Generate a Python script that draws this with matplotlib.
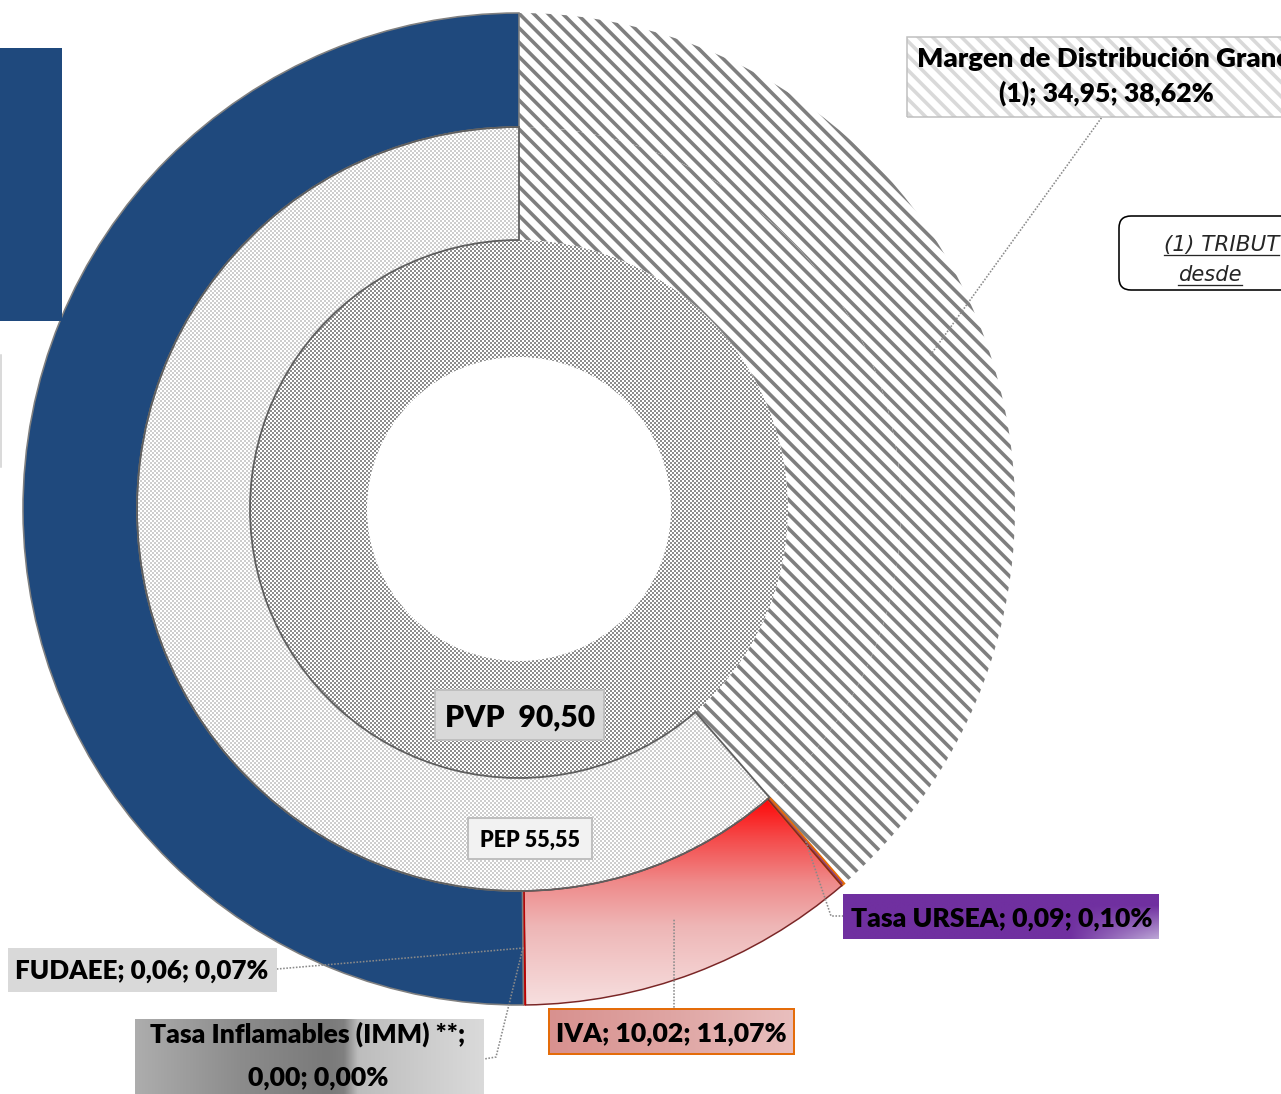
import numpy as np
import matplotlib
matplotlib.use('Agg')
import matplotlib.pyplot as plt
from matplotlib.patches import Rectangle, FancyBboxPatch
from matplotlib.colors import to_rgb

# price build-up values ($ per litre)
pvp_total = 90.50
pep_value = 55.55
outer_names = ['Margen de Distribución Granel (1)', 'Tasa URSEA', 'IVA',
               'FUDAEE', 'Tasa Inflamables (IMM) **']
outer_values = [34.95, 0.09, 10.02, 0.06, 0.00]

W, H = 1281, 1094
DPI = 130
HATCH = '\\\\\\'


def pt(px):
    # pixel size -> points at this dpi
    return px * 72 / DPI


def fmt(v):
    return f'{v:.2f}'.replace('.', ',')


plt.rcParams['font.family'] = ['Lato', 'DejaVu Sans']
plt.rcParams['hatch.linewidth'] = pt(3.6)

fig = plt.figure(figsize=(W / DPI, H / DPI), dpi=DPI, facecolor='white')
ax = fig.add_axes([0, 0, 1, 1])

# geometry in pixels (y measured upward)
cx, cy = 519, H - 509
r_out, r_mid, r_in, r_hole = 496, 382, 269, 152

# outer ring: the items plus a blue filler that completes PVP
filler = pvp_total - sum(outer_values)
outer_ring = outer_values + [filler]
wo, _ = ax.pie(outer_ring, radius=r_out, center=(cx, cy), startangle=90,
               counterclock=False, wedgeprops=dict(width=r_out - r_mid))
wm, _ = ax.pie([pvp_total - pep_value, pep_value], radius=r_mid, center=(cx, cy),
               startangle=90, counterclock=False, wedgeprops=dict(width=r_mid - r_in))
wi, _ = ax.pie([pvp_total], radius=r_in, center=(cx, cy), startangle=90,
               counterclock=False, wedgeprops=dict(width=r_in - r_hole))

for w in (wo[0], wm[0]):
    w.set_facecolor('white')
    w.set_edgecolor('#7f7f7f')
    w.set_linewidth(0)
    w.set_hatch(HATCH)
wo[1].set(facecolor='#7030A0', edgecolor='#E46C0A', linewidth=pt(2))
wo[2].set(facecolor='none', edgecolor='#7A2626', linewidth=pt(1.5))
wo[3].set(facecolor='#C00000', edgecolor='#C00000', linewidth=pt(1))
wo[4].set(facecolor='none', linewidth=0)
wo[5].set(facecolor='#1F497D', edgecolor='#808080', linewidth=pt(1.6))
wm[1].set(facecolor='none', edgecolor='#5f5f5f', linewidth=pt(1.8))
wi[0].set(facecolor='none', linewidth=0)

# dotted textures clipped to the rings
yy, xx = np.indices((H, W))
cells = (xx // 2 + yy // 2) % 2 == 0


def checker(color):
    img = np.full((H, W, 3), 255, dtype=np.uint8)
    img[cells] = (np.array(to_rgb(color)) * 255).astype(np.uint8)
    return img


def clipped_image(img, patch, extent=(0, W, 0, H), interp='nearest', z=0.5):
    im = ax.imshow(img, extent=extent, origin='upper', interpolation=interp, zorder=z)
    if patch is not None:
        im.set_clip_path(patch)
    return im


def ramp(stops, n=200):
    pos = [s[0] for s in stops]
    cols = np.array([to_rgb(s[1]) for s in stops])
    t = np.linspace(0, 1, n)
    return np.stack([np.interp(t, pos, cols[:, k]) for k in range(3)], axis=-1)


clipped_image(checker('#cdcdcd'), wm[1])
clipped_image(checker('#8c8c8c'), wi[0])

# IVA red-to-pink fill
iva_grad = ramp([(0, '#FF0000'), (0.2, '#F54848'), (0.42, '#EF8C8C'),
                 (0.62, '#EEB6B6'), (1, '#F7E0E0')])[:, None, :]
clipped_image(iva_grad, wo[2], extent=(512, 852, H - 1007, H - 794), interp='bilinear')

# leader lines start on the middle of the outer ring
r_lab = (r_out + r_mid) / 2
cum = np.concatenate([[0], np.cumsum(outer_ring)])
mid_ang = np.radians(360 * (cum[:-1] + np.array(outer_ring) / 2) / sum(outer_ring))
starts = [(cx + r_lab * np.sin(a), cy + r_lab * np.cos(a)) for a in mid_ang[:len(outer_values)]]

leader_ends = [
    [(1102, 117)],
    [(831, 916), (843, 916)],
    [(674, 1009)],
    [(277, 969)],
    [(496, 1057), (484, 1059)],
]
for (sx, sy), pts in zip(starts, leader_ends):
    xs = [sx] + [p[0] for p in pts]
    ys = [sy] + [H - p[1] for p in pts]
    ax.plot(xs, ys, color='#8a8a8a', lw=pt(1.6), ls=(0, (1, 1)), zorder=3)


def box(x0, y0, x1, y1, **kw):
    r = Rectangle((x0, H - y1), x1 - x0, y1 - y0, zorder=4, **kw)
    ax.add_patch(r)
    return r


def grad_box(x0, y0, x1, y1, img, edge='none', lw=0):
    clipped_image(img, None, extent=(x0, x1, H - y1, H - y0), interp='bilinear', z=4)
    box(x0, y0, x1, y1, facecolor='none', edgecolor=edge, linewidth=lw)


def txt(x, y, s, size=26.5, **kw):
    return ax.text(x, H - y, s, ha='center', va='baseline', fontsize=pt(size),
                   fontweight='heavy', color='black', zorder=6, **kw)


labels = [f'{n}; {fmt(v)}; {fmt(v / pvp_total * 100)}%' for n, v in zip(outer_names, outer_values)]

# Margen label (hatched box, runs past the right edge like the slide)
box(907, 37, 1330, 117, facecolor='white', edgecolor='#d9d9d9', linewidth=0, hatch=HATCH)
box(907, 37, 1330, 117, facecolor='none', edgecolor='#bfbfbf', linewidth=pt(1.5))
m1, m2 = labels[0].split(' (1);')
txt(1108, 67, m1, size=27.5)
txt(1106, 102, '(1);' + m2)

# Tasa URSEA label (purple, lighter at lower right)
u = np.linspace(0, 1, 160)[None, :]
v = np.linspace(0, 1, 40)[:, None]
t = np.clip((u - 0.72) / 0.28, 0, 1) * np.clip((v - 0.25) / 0.75, 0, 1)
purple = np.array(to_rgb('#7030A0'))
lav = np.array(to_rgb('#BCA6D6'))
grad_box(843, 894, 1159, 939, purple * (1 - t[..., None]) + lav * t[..., None])
txt(1002, 927, labels[1])

# IVA label
iva_box = ramp([(0, '#D8918F'), (0.5, '#DFA5A3'), (1, '#E9BFBE')])[None, :, :]
grad_box(549, 1009, 794, 1054, iva_box, edge='#E46C0A', lw=pt(2))
txt(671, 1042, labels[2])

# FUDAEE label
box(8, 948, 277, 992, facecolor='#d9d9d9', edgecolor='none')
txt(142, 979, labels[3], size=26)

# Tasa Inflamables label (grey band)
inf_grad = ramp([(0, '#adadad'), (0.3, '#8c8c8c'), (0.55, '#7a7a7a'), (0.6, '#808080'),
                 (0.64, '#bdbdbd'), (1, '#dadada')])[None, :, :]
grad_box(135, 1019, 484, 1100, inf_grad)
i1, i2 = labels[4].split('**; ')
txt(308, 1043, i1 + '**;')
txt(318, 1086, i2)

# centre labels
box(435, 690, 604, 740, facecolor='#d9d9d9', edgecolor='#bfbfbf', linewidth=pt(2))
txt(520, 727, f'PVP  {fmt(pvp_total)}', size=30)
box(468, 818, 592, 859, facecolor='#f2f2f2', edgecolor='#bfbfbf', linewidth=pt(2))
txt(530, 847, f'PEP {fmt(pep_value)}', size=21.5)

# pieces of neighbouring slide shapes
ax.add_patch(Rectangle((0, H - 321), 62, 273, facecolor='#1F497D', edgecolor='none', zorder=2))
ax.plot([0.8, 0.8], [H - 355, H - 467], color='#cfcfcf', lw=pt(1.5), zorder=2)

note = FancyBboxPatch((1119, H - 290), 220, 74, boxstyle='round,pad=0,rounding_size=12',
                      facecolor='white', edgecolor='black', linewidth=pt(1.6), zorder=4)
ax.add_patch(note)
note_texts = [
    ax.text(1164, H - 251, '(1) TRIBUT', ha='left', va='baseline', fontsize=pt(21.5),
            style='italic', family='DejaVu Sans', color='#262626', zorder=6),
    ax.text(1178, H - 281, 'desde', ha='left', va='baseline', fontsize=pt(21),
            style='italic', family='DejaVu Sans', color='#262626', zorder=6),
]

ax.set_xlim(0, W)
ax.set_ylim(0, H)
ax.set_aspect('auto')
ax.axis('off')

# underline the note text
fig.canvas.draw()
inv = ax.transData.inverted()
for tx in note_texts:
    bb = tx.get_window_extent()
    (x0, _), (x1, _) = inv.transform([[bb.x0, bb.y0], [bb.x1, bb.y0]])
    y = tx.get_position()[1] - 4
    ax.plot([x0, x1], [y, y], color='#262626', lw=pt(1.3), zorder=6)

fig.savefig('out.png', dpi=DPI)
